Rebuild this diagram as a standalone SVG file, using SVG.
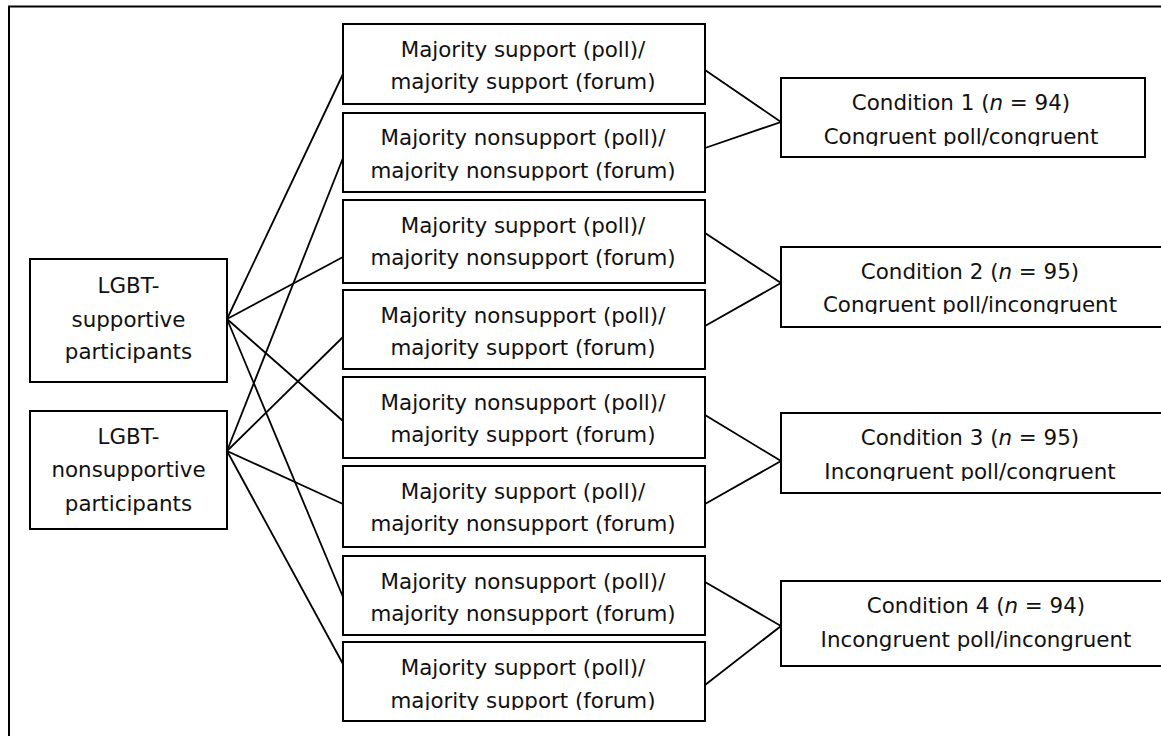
<svg xmlns="http://www.w3.org/2000/svg" width="1161" height="736" viewBox="0 0 1161 736">
<style>
.box{fill:#fff;stroke:#000;stroke-width:2}
.frame{fill:none;stroke:#000;stroke-width:2}
.ln{stroke:#000;stroke-width:1.8;fill:none}
text{font-family:"DejaVu Sans","Liberation Sans",sans-serif;font-size:21.4px;fill:#111;text-anchor:middle}
.it{font-style:italic}
</style>
<defs>
<clipPath id="c2"><rect x="340" y="100" width="370" height="80.5"/></clipPath>
<clipPath id="c8"><rect x="340" y="630" width="370" height="80"/></clipPath>
<clipPath id="k1"><rect x="780" y="70" width="370" height="76"/></clipPath>
<clipPath id="k2"><rect x="780" y="240" width="390" height="74"/></clipPath>
<clipPath id="k3"><rect x="780" y="405" width="390" height="76"/></clipPath>
</defs>
<rect class="frame" x="9" y="6.5" width="1180" height="760"/>
<g id="connectors">
<line class="ln" x1="227" y1="319" x2="343" y2="74"/>
<line class="ln" x1="227" y1="319" x2="343" y2="257"/>
<line class="ln" x1="227" y1="319" x2="343" y2="421"/>
<line class="ln" x1="227" y1="319" x2="343" y2="597"/>
<line class="ln" x1="227" y1="451" x2="343" y2="158"/>
<line class="ln" x1="227" y1="451" x2="343" y2="337"/>
<line class="ln" x1="227" y1="451" x2="343" y2="504"/>
<line class="ln" x1="227" y1="451" x2="343" y2="664"/>
<polyline class="ln" points="705,70 781,122 705,148"/>
<polyline class="ln" points="705,233 781,283 705,326"/>
<polyline class="ln" points="705,415 781,461 705,504"/>
<polyline class="ln" points="705,582 781,626 705,685"/>
</g>
<g id="supportive">
<rect class="box" x="30" y="259" width="197" height="123"/>
<text x="128.5" y="293">LGBT-</text>
<text x="128.5" y="326.5">supportive</text>
<text x="128.5" y="359">participants</text>
</g>
<g id="nonsupportive">
<rect class="box" x="30" y="411" width="197" height="118"/>
<text x="128.5" y="443.5">LGBT-</text>
<text x="128.5" y="477">nonsupportive</text>
<text x="128.5" y="510.5">participants</text>
</g>
<g id="m1">
<rect class="box" x="343" y="24" width="362" height="80"/>
<text x="523" y="56.5">Majority support (poll)/</text>
<text x="523" y="88.5">majority support (forum)</text>
</g>
<g id="m2">
<rect class="box" x="343" y="113" width="362" height="79"/>
<g clip-path="url(#c2)">
<text x="523" y="145">Majority nonsupport (poll)/</text>
<text x="523" y="178">majority nonsupport (forum)</text>
</g>
</g>
<g id="m3">
<rect class="box" x="343" y="200" width="362" height="83"/>
<text x="523" y="233">Majority support (poll)/</text>
<text x="523" y="265">majority nonsupport (forum)</text>
</g>
<g id="m4">
<rect class="box" x="343" y="290" width="362" height="79"/>
<text x="523" y="322.5">Majority nonsupport (poll)/</text>
<text x="523" y="354.5">majority support (forum)</text>
</g>
<g id="m5">
<rect class="box" x="343" y="377" width="362" height="81"/>
<text x="523" y="410">Majority nonsupport (poll)/</text>
<text x="523" y="442">majority support (forum)</text>
</g>
<g id="m6">
<rect class="box" x="343" y="466" width="362" height="81"/>
<text x="523" y="499">Majority support (poll)/</text>
<text x="523" y="531">majority nonsupport (forum)</text>
</g>
<g id="m7">
<rect class="box" x="343" y="556" width="362" height="79"/>
<text x="523" y="588.5">Majority nonsupport (poll)/</text>
<text x="523" y="620.5">majority nonsupport (forum)</text>
</g>
<g id="m8">
<rect class="box" x="343" y="642" width="362" height="79"/>
<g clip-path="url(#c8)">
<text x="523" y="675">Majority support (poll)/</text>
<text x="523" y="707.5">majority support (forum)</text>
</g>
</g>
<g id="cond1">
<rect class="box" x="781" y="78" width="364" height="79"/>
<g clip-path="url(#k1)">
<text x="961" y="110">Condition 1 (<tspan class="it">n</tspan> = 94)</text>
<text x="961" y="143.5">Congruent poll/congruent</text>
</g>
</g>
<g id="cond2">
<rect class="box" x="781" y="247" width="382" height="80"/>
<g clip-path="url(#k2)">
<text x="970" y="278.5">Condition 2 (<tspan class="it">n</tspan> = 95)</text>
<text x="970" y="312">Congruent poll/incongruent</text>
</g>
</g>
<g id="cond3">
<rect class="box" x="781" y="413" width="382" height="80"/>
<g clip-path="url(#k3)">
<text x="970" y="445">Condition 3 (<tspan class="it">n</tspan> = 95)</text>
<text x="970" y="479">Incongruent poll/congruent</text>
</g>
</g>
<g id="cond4">
<rect class="box" x="781" y="581" width="394" height="85"/>
<text x="976" y="613">Condition 4 (<tspan class="it">n</tspan> = 94)</text>
<text x="976" y="647">Incongruent poll/incongruent</text>
</g>
</svg>
